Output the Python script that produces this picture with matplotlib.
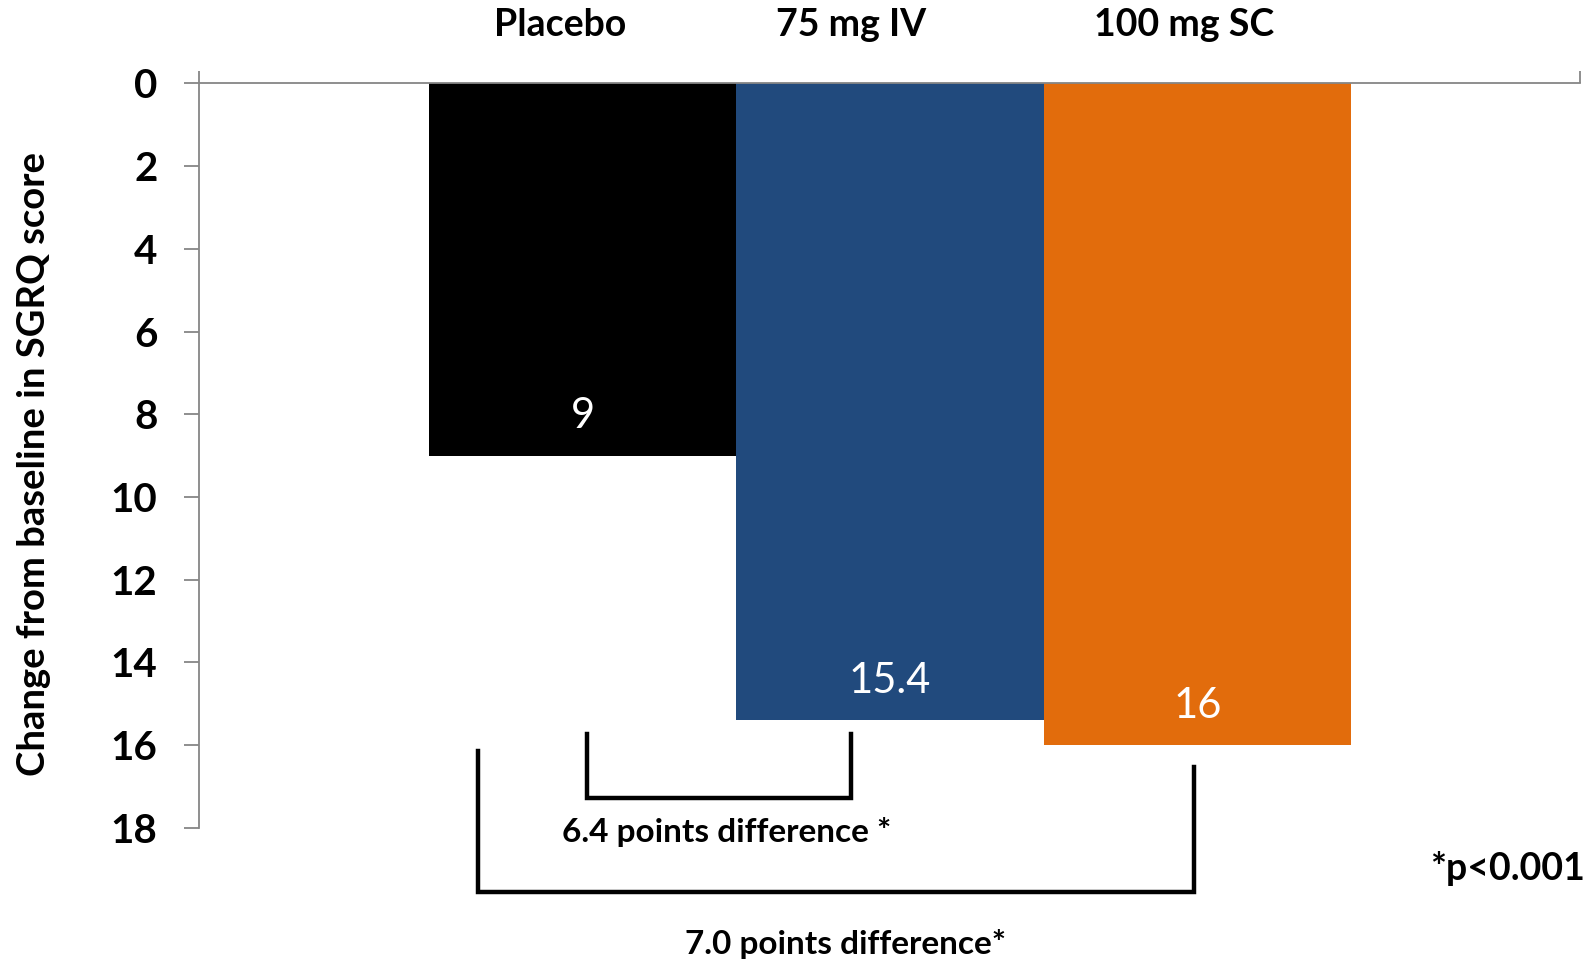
import matplotlib
matplotlib.use('Agg')
import matplotlib.pyplot as plt

# change from baseline in SGRQ score per arm
groups = ['Placebo', '75 mg IV', '100 mg SC']
change = [9, 15.4, 16]
value_labels = ['9', '15.4', '16']
colors = ['#000000', '#214A7D', '#E26C0C']
yticks = [0, 2, 4, 6, 8, 10, 12, 14, 16, 18]

# comparisons drawn under the bars
diff_small = '6.4 points difference *'
diff_large = '7.0 points difference*'
p_note = '*p<0.001'

plt.rcParams['font.family'] = ['Lato', 'DejaVu Sans']

fig = plt.figure(figsize=(15.93, 9.6), dpi=100)
ax = fig.add_axes([0.125, 0.1376, 0.8667, 0.7756])

x = list(range(len(groups)))
ax.bar(x, change, width=1.0, color=colors, align='center')

ax.set_xlim(-1.247, 3.243)
ax.set_ylim(18, 0)

spine_col = '#868686'
for s in ['right', 'bottom']:
    ax.spines[s].set_visible(False)
for s in ['left', 'top']:
    ax.spines[s].set_color(spine_col)
    ax.spines[s].set_linewidth(1.3)

ax.set_yticks(yticks)
ax.set_yticklabels([str(t) for t in yticks], fontsize=29, fontweight='bold')
ax.tick_params(axis='y', length=11, width=1.3, color=spine_col, pad=19)

# only the end ticks of the category axis are shown
ax.xaxis.tick_top()
ax.set_xticks([-1.247, 3.243])
ax.set_xticklabels(['', ''])
ax.tick_params(axis='x', length=9, width=1.3, color=spine_col)

fig.text(33 / 1568, 1 - 457 / 945, 'Change from baseline in SGRQ score',
         rotation=90, ha='center', va='center', fontsize=27.5, fontweight='bold')

# group names above the axis
name_off = [-0.074, -0.126, -0.045]
for i, g in enumerate(groups):
    ax.text(i + name_off[i], -1.4, g, ha='center', va='center',
            fontsize=27, fontweight='bold', clip_on=False)

# values inside the bars
for i, v in enumerate(change):
    ax.text(i, v - 0.95, value_labels[i], ha='center', va='center',
            color='white', fontsize=30)

# brackets
lw = 3.2
ax.plot([0.015, 0.015, 0.874, 0.874], [15.73, 17.28, 17.28, 15.73],
        color='black', lw=lw, clip_on=False, solid_joinstyle='miter')
ax.plot([-0.341, -0.341, 1.988, 1.988], [16.15, 19.56, 19.56, 16.52],
        color='black', lw=lw, clip_on=False, solid_joinstyle='miter')

ax.text(0.47, 18.1, diff_small, ha='center', va='center',
        fontsize=24, fontweight='bold', clip_on=False)
ax.text(0.856, 20.8, diff_large, ha='center', va='center',
        fontsize=24, fontweight='bold', clip_on=False)
ax.text(3.26, 18.98, p_note, ha='right', va='center',
        fontsize=27, fontweight='bold', clip_on=False)

fig.savefig('out.png', dpi=100)
